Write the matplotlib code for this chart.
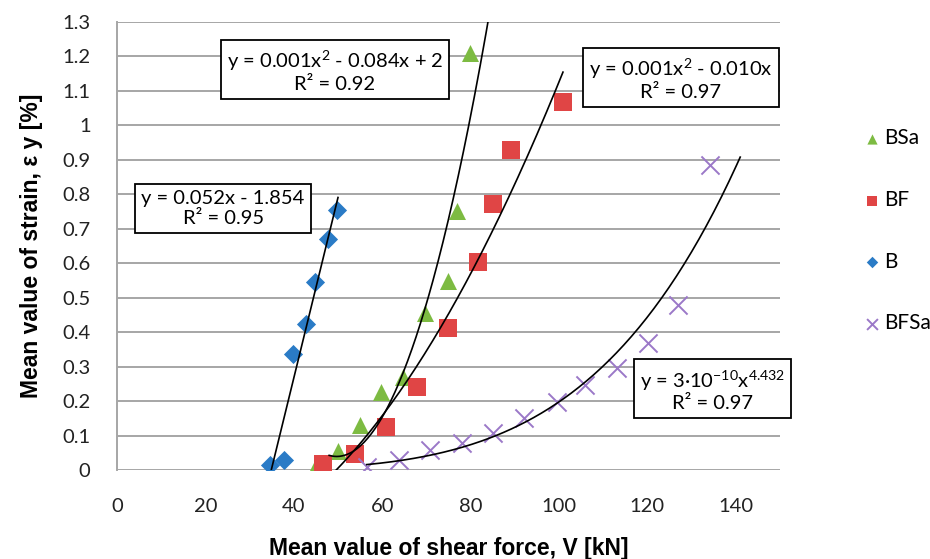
import numpy as np
import matplotlib
matplotlib.use('Agg')
import matplotlib.pyplot as plt

# data: mean shear force V [kN] vs mean strain [%]
b_x = [34.6, 37.8, 39.8, 42.8, 44.8, 47.7, 49.8]
b_y = [0.014, 0.03, 0.336, 0.425, 0.545, 0.67, 0.755]

bsa_x = [44.8, 50.0, 55.0, 59.7, 64.7, 69.7, 74.9, 76.9, 79.9]
bsa_y = [0.005, 0.055, 0.13, 0.225, 0.27, 0.455, 0.548, 0.752, 1.21]

bf_x = [46.6, 53.8, 60.8, 67.9, 74.9, 81.7, 85.0, 89.1, 100.9]
bf_y = [0.018, 0.045, 0.125, 0.24, 0.412, 0.603, 0.771, 0.93, 1.067]

bfsa_x = [56.5, 63.9, 70.8, 78.0, 85.0, 92.1, 99.5, 105.9, 113.1, 120.1, 127.0, 134.2]
bfsa_y = [0.01, 0.03, 0.058, 0.078, 0.107, 0.15, 0.197, 0.246, 0.296, 0.369, 0.48, 0.886]

# x extent of each trendline as drawn
b_trend = [34.7, 50.0]
bsa_trend = [48.0, 86.0]
bf_trend = [47.5, 100.9]
bfsa_trend = [56.5, 141.0]

x_ticks = [0, 20, 40, 60, 80, 100, 120, 140]
y_ticks = [0, 0.1, 0.2, 0.3, 0.4, 0.5, 0.6, 0.7, 0.8, 0.9, 1, 1.1, 1.2, 1.3]
y_ticklabels = ['0', '0.1', '0.2', '0.3', '0.4', '0.5', '0.6', '0.7', '0.8',
                '0.9', '1', '1.1', '1.2', '1.3']

eq_b = 'y = 0.052x - 1.854\nR² = 0.95'
eq_bsa = 'y = 0.001x$^{2}$ - 0.084x + 2\nR² = 0.92'
eq_bf = 'y = 0.001x$^{2}$ - 0.010x\nR² = 0.97'
eq_bfsa = 'y = 3·10$^{-10}$x$^{4.432}$\nR² = 0.97'

colors = {
    'B': '#2a7bc6',
    'BSa': '#7dbb42',
    'BF': '#e04545',
    'BFSa': '#9b78c8',
}

plt.rcParams['font.family'] = ['Lato', 'DejaVu Sans']
plt.rcParams['mathtext.fontset'] = 'custom'
plt.rcParams['mathtext.rm'] = 'Lato'

fig = plt.figure(figsize=(9.3, 5.59), dpi=100)
ax = fig.add_axes([117 / 930, 1 - 470 / 559, (780 - 117) / 930, (470 - 22) / 559])

ax.set_xlim(0, 150)
ax.set_ylim(0, 1.3)

# gridlines
for yv in y_ticks:
    ax.axhline(yv, color='#a6a6a6', lw=1.4, zorder=0)

# trendlines (fitted from the data like the spreadsheet does)
xs = np.linspace(b_trend[0], b_trend[1], 50)
p = np.polyfit(b_x, b_y, 1)
ax.plot(xs, np.polyval(p, xs), color='black', lw=1.2, zorder=4)

xs = np.linspace(bsa_trend[0], bsa_trend[1], 200)
p = np.polyfit(bsa_x, bsa_y, 2)
ax.plot(xs, np.polyval(p, xs), color='black', lw=1.2, zorder=4)

xs = np.linspace(bf_trend[0], bf_trend[1], 200)
p = np.polyfit(bf_x, bf_y, 2)
ax.plot(xs, np.polyval(p, xs), color='black', lw=1.2, zorder=4)

xs = np.linspace(bfsa_trend[0], bfsa_trend[1], 200)
p = np.polyfit(np.log(bfsa_x), np.log(bfsa_y), 1)
ax.plot(xs, np.exp(p[1]) * xs ** p[0], color='black', lw=1.2, zorder=4)

# scatter series
ax.scatter(bsa_x, bsa_y, marker='^', s=150, color=colors['BSa'], lw=0, zorder=3, label='BSa')
ax.scatter(bf_x, bf_y, marker='s', s=150, color=colors['BF'], lw=0, zorder=3, label='BF')
ax.scatter(b_x, b_y, marker='D', s=95, color=colors['B'], lw=0, zorder=3, label='B')
ax.scatter(bfsa_x, bfsa_y, marker='x', s=170, color=colors['BFSa'], lw=1.4, zorder=3, label='BFSa')

# equation boxes
box = dict(boxstyle='square,pad=0.3', facecolor='white', edgecolor='black', lw=1.3)
for xv, yv, txt in [(24.0, 0.759, eq_b), (49.3, 1.159, eq_bsa),
                    (127.6, 1.136, eq_bf), (134.8, 0.232, eq_bfsa)]:
    ax.text(xv, yv, txt, ha='center', va='center', fontsize=14.5, linespacing=1.2,
            bbox=box, zorder=6, clip_on=False)

ax.set_xticks(x_ticks)
ax.set_yticks(y_ticks)
ax.set_yticklabels(y_ticklabels)
ax.tick_params(length=0, labelsize=14.5, colors='#222222')
ax.tick_params(axis='x', pad=20)
ax.tick_params(axis='y', pad=19)

for side in ['top', 'right', 'bottom']:
    ax.spines[side].set_visible(False)
ax.spines['left'].set_color('#a6a6a6')
ax.spines['left'].set_linewidth(1.4)

ax.set_xlabel('Mean value of shear force, V [kN]', fontsize=16.5, fontweight='bold',
              family='Liberation Sans', labelpad=16)
ax.set_ylabel('Mean value of strain, ε y [%]', fontsize=16.5, fontweight='bold',
              family='Liberation Sans', labelpad=14)

fig.legend(loc='upper left', bbox_to_anchor=(853 / 930, 1 - 120 / 559), frameon=False,
           fontsize=15, markerscale=0.6, labelspacing=2.0, handletextpad=0.1,
           handlelength=1.0, borderaxespad=0)

fig.savefig('out.png', dpi=100)
